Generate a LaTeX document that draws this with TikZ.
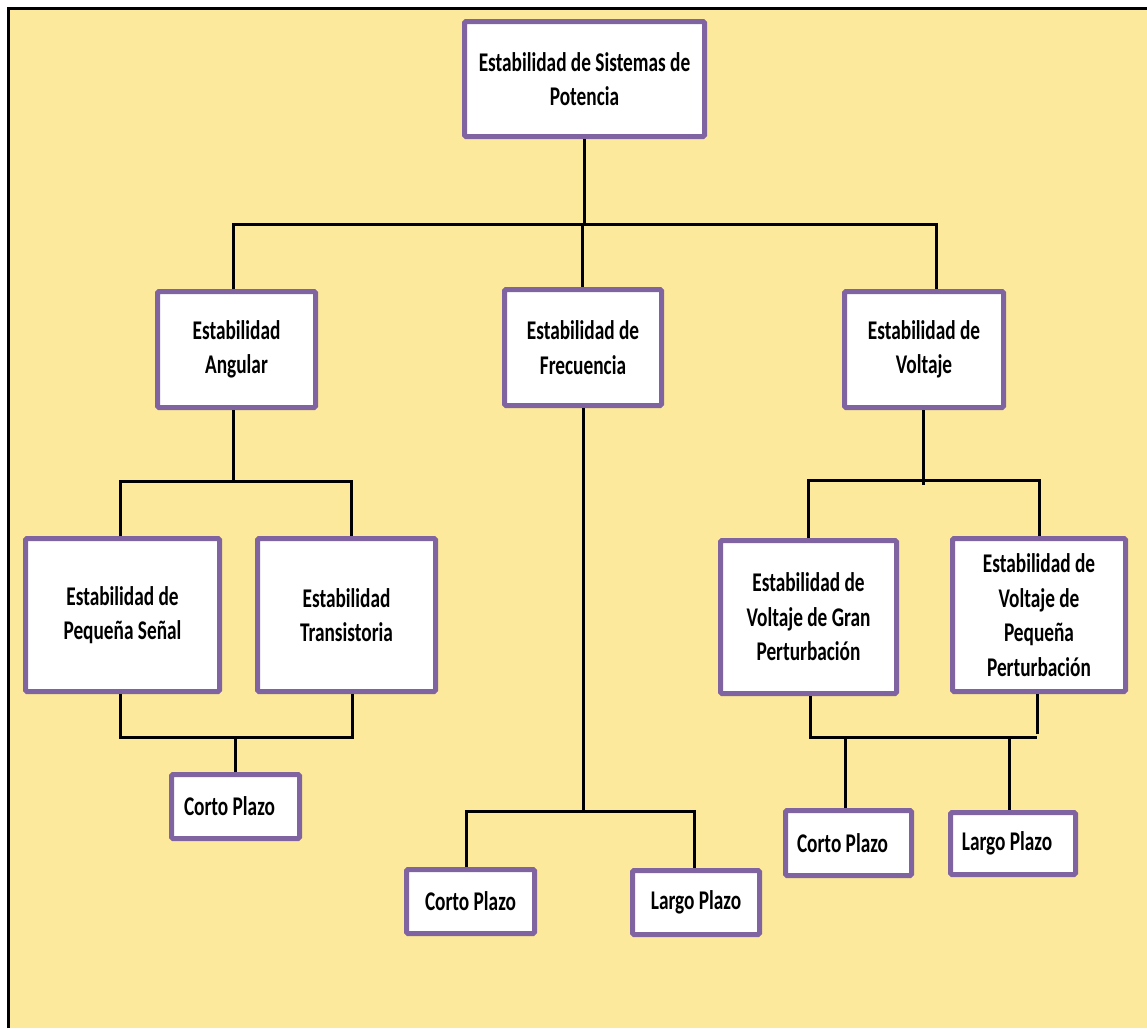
\documentclass[tikz,border=0pt]{standalone}
\usepackage{fontspec}
\newfontfamily\boxfont[FakeStretch=0.715]{Carlito}
\definecolor{paper}{RGB}{253,233,156}
\definecolor{boxline}{RGB}{128,100,162}
\tikzset{
  box/.style={draw=boxline, line width=5pt, fill=white, rounded corners=1.5pt,
    inner sep=0pt, align=center, text=black,
    font=\boxfont\bfseries\fontsize{27}{34.5}\selectfont},
  leftish/.style={execute at begin node={\hspace*{-12pt}}},
  link/.style={draw=black, line width=3pt}
}
\begin{document}
\begin{tikzpicture}[x=1pt,y=-1pt]
\useasboundingbox (0,0) rectangle (1147,1028);
% page and frame
\fill[white] (0,0) rectangle (1147,1028);
\fill[paper] (8,8) rectangle (1147,1028);
\draw[line width=3pt] (8,1028) -- (8,8) -- (1147,8);

% boxes
\node[box, minimum width=240, minimum height=115] (top) at (584.5,79) {Estabilidad de Sistemas de\\Potencia};
\node[box, minimum width=158, minimum height=116] (ang) at (236.5,349.5) {Estabilidad\\Angular};
\node[box, minimum width=157, minimum height=116] (frec) at (583,347.5) {Estabilidad de\\Frecuencia};
\node[box, minimum width=159, minimum height=116] (volt) at (924,349.5) {Estabilidad de\\Voltaje};
\node[box, minimum width=194, minimum height=153] (ps) at (122.5,615) {Estabilidad de\\Pequeña Señal};
\node[box, minimum width=178, minimum height=153] (tr) at (346.5,615) {Estabilidad\\Transistoria};
\node[box, minimum width=176, minimum height=153] (vg) at (808.5,617) {Estabilidad de\\Voltaje de Gran\\Perturbación};
\node[box, minimum width=173, minimum height=153] (vp) at (1039,615) {Estabilidad de\\Voltaje de\\Pequeña\\Perturbación};
\node[box, leftish, minimum width=128, minimum height=64] (cp1) at (235.5,806.5) {Corto Plazo};
\node[box, minimum width=128, minimum height=64] (cp2) at (470.5,901.5) {Corto Plazo};
\node[box, minimum width=127, minimum height=64] (lp2) at (696,902.5) {Largo Plazo};
\node[box, leftish, minimum width=126, minimum height=65] (cp3) at (848.5,843) {Corto Plazo};
\node[box, leftish, minimum width=125, minimum height=62] (lp3) at (1013,843.5) {Largo Plazo};

% junction points
\coordinate (t1) at (233,224);
\coordinate (t2) at (582,224);
\coordinate (t3) at (936,224);
\coordinate (a0) at (233,483);
\coordinate (a1) at (120,481);
\coordinate (a2) at (351,481);
\coordinate (b0) at (235,737);
\coordinate (b1) at (120,737);
\coordinate (b2) at (352,737);
\coordinate (f0) at (583,811);
\coordinate (f1) at (466,811);
\coordinate (f2) at (694,811);
\coordinate (v0) at (923,485);
\coordinate (v1) at (808,480);
\coordinate (v2) at (1039,480);
\coordinate (w1) at (810,737);
\coordinate (w2) at (1037,737);
\coordinate (w3) at (845,737);
\coordinate (w4) at (1009,737);

% first level
\draw[link] (top.south) -- (top.south |- t2);
\draw[link] (t1 |- ang.north) -- (t1) -- (t3) -- (t3 |- volt.north);
\draw[link] (t2) -- (t2 |- frec.north);

% angular branch
\draw[link] (a0 |- ang.south) -- (a0);
\draw[link] (a1 |- ps.north) -- (a1) -- (a2) -- (a2 |- tr.north);
\draw[link] (b1 |- ps.south) -- (b1) -- (b2) -- (b2 |- tr.south);
\draw[link] (b0) -- (b0 |- cp1.north);

% frequency branch
\draw[link] (f0 |- frec.south) -- (f0);
\draw[link] (f1 |- cp2.north) -- (f1) -- (f2) -- (f2 |- lp2.north);

% voltage branch
\draw[link] (v0 |- volt.south) -- (v0);
\draw[link] (v1 |- vg.north) -- (v1) -- (v2) -- (v2 |- vp.north);
\draw[link] (w1 |- vg.south) -- (w1) -- (w2);
\draw[link] (w2 |- vp.south) -- ([yshift=3]w2);
\draw[link] (w3) -- (w3 |- cp3.north);
\draw[link] (w4) -- (w4 |- lp3.north);
\end{tikzpicture}
\end{document}
